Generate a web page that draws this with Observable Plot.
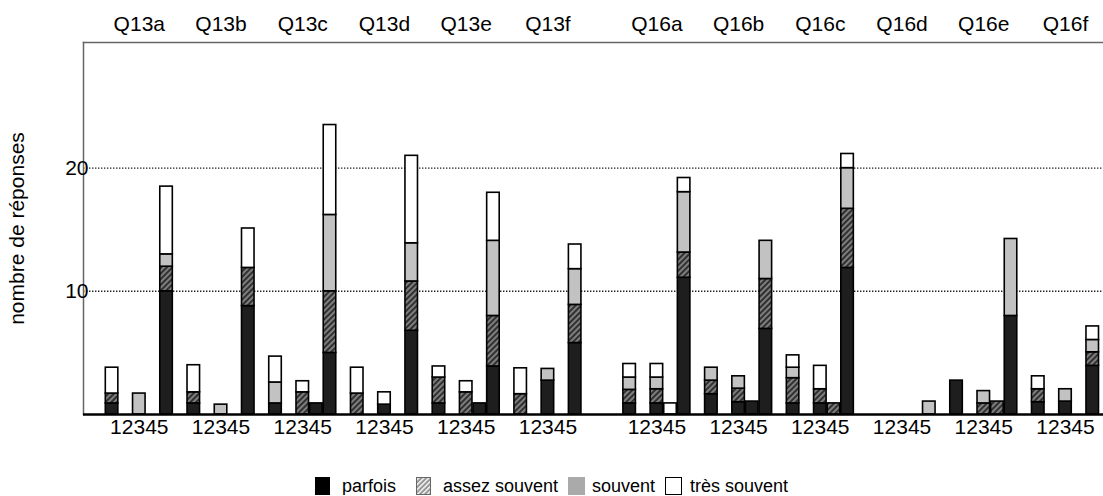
<!DOCTYPE html>
<html><head><meta charset="utf-8">
<script src="https://cdn.jsdelivr.net/npm/d3@7"></script>
<script src="https://cdn.jsdelivr.net/npm/@observablehq/plot@0.6"></script>
<style>
body{margin:0;background:#fff;font-family:"Liberation Sans",Arial,sans-serif;}
#chart svg{display:block}
#legend{display:flex;justify-content:center;align-items:center;margin-top:37px;font-size:18px;color:#000;height:18px;line-height:18px}
.item{display:flex;align-items:center}
.sw{width:16px;height:18px;box-sizing:border-box;display:block}
</style></head><body><div id="chart"></div><div id="legend"></div>
<script>
const groups = ["Q13a","Q13b","Q13c","Q13d","Q13e","Q13f","Q16a","Q16b","Q16c","Q16d","Q16e","Q16f"];
const responses = [1,2,3,4,5];
const categories = ["parfois","assez souvent","souvent","très souvent"];
const bottomTickLabel = responses.join("");
const gridTicks = [10, 20];
// values per group (rows) and per response 1..5 (columns)
const parfois = [
 [0.9,0,0,0,10.0],
 [0.9,0,0,0,8.8],
 [0.9,0,0,0.9,5.0],
 [0,0,0.8,0,6.8],
 [0.9,0,0,0.9,3.9],
 [0,0,2.75,0,5.8],
 [0.9,0,0.9,0,11.1],
 [1.65,0,1.0,1.05,6.95],
 [0.9,0,0.9,0,11.9],
 [0,0,0,0,0],
 [2.75,0,0,0,8.0],
 [1.0,0,1.05,0,3.95]
];
const assezSouvent = [
 [0.8,0,0,0,2.0],
 [0.9,0,0,0,3.1],
 [0,0,1.8,0,5.0],
 [1.7,0,0,0,4.0],
 [2.1,0,1.8,0,4.1],
 [1.65,0,0,0,3.1],
 [1.1,0,1.15,0,2.05],
 [1.1,0,1.1,0,4.05],
 [2.05,0,1.15,0.9,4.8],
 [0,0,0,0,0],
 [0,0,0.9,1.05,0],
 [1.05,0,0,0,1.1]
];
const souvent = [
 [0,0,1.7,0,1.0],
 [0,0,0.8,0,0],
 [1.7,0,0,0,6.2],
 [0,0,0,0,3.1],
 [0,0,0,0,6.1],
 [0,0,0.95,0,2.9],
 [1.0,0,0.95,0,4.9],
 [1.05,0,1.0,0,3.1],
 [0.85,0,0,0,3.3],
 [0,0,0,0,1.05],
 [0,0,1.0,0,6.25],
 [0,0,1.0,0,1.0]
];
const tresSouvent = [
 [2.1,0,0,0,5.5],
 [2.2,0,0,0,3.2],
 [2.1,0,0.9,0,7.3],
 [2.1,0,1.0,0,7.1],
 [0.9,0,0.9,0,3.9],
 [2.1,0,0,0,2.0],
 [1.1,0,1.1,0.9,1.15],
 [0,0,0,0,0],
 [1.0,0,1.9,0,1.15],
 [0,0,0,0,0],
 [0,0,0,0,0],
 [1.05,0,0,0,1.1]
];
const series = [parfois, assezSouvent, souvent, tresSouvent];

const keyOf = (g, r) => g + "|" + r;
const rows = [];
groups.forEach((g, gi) => responses.forEach((r, ri) => categories.forEach((c, ci) => {
  const v = series[ci][gi][ri];
  if (v > 0) rows.push({group: g, response: r, category: c, value: v, key: keyOf(g, r)});
})));

const domain = [];
groups.forEach((g, i) => {
  if (i > 0 && g.slice(0, 3) !== groups[i - 1].slice(0, 3)) domain.push("sepA" + g, "sepB" + g);
  responses.forEach(r => domain.push(keyOf(g, r)));
  if (i < groups.length - 1) domain.push(g + "|gap");
});
const centerKeys = groups.map(g => keyOf(g, 3));

const chart = Plot.plot({
  width: 1103, height: 440,
  marginLeft: 83, marginRight: 0, marginTop: 42, marginBottom: 26,
  style: {fontFamily: "Liberation Sans, Arial, sans-serif", fontSize: "21px", color: "#000", background: "#fff"},
  x: {type: "band", domain, paddingInner: 0.08, paddingOuter: 0, insetLeft: 22.3, insetRight: 4.5},
  y: {domain: [0, 30.2]},
  color: {domain: categories, range: ["#1e1e1e", "url(#hatch)", "#c2c2c2", "#ffffff"]},
  marks: [
    Plot.ruleY(gridTicks, {stroke: "#222", strokeWidth: 1.4, strokeDasharray: "1.4 1.6"}),
    Plot.frame({anchor: "left", stroke: "#666", strokeWidth: 1.5}),
    Plot.frame({anchor: "top", stroke: "#666", strokeWidth: 1.5}),
    Plot.barY(rows, {x: "key", y: "value", fill: "category", order: categories, stroke: "#000", strokeWidth: 1.6}),
    Plot.ruleY([0], {stroke: "#000", strokeWidth: 2.5}),
    Plot.axisY({ticks: gridTicks, tickSize: 0, tickPadding: 7, dx: 12, label: null}),
    Plot.axisY({ticks: [], label: "nombre de réponses", labelAnchor: "center", labelArrow: "none", labelOffset: 74}),
    Plot.axisX({anchor: "bottom", ticks: centerKeys, tickFormat: () => bottomTickLabel, tickSize: 0, tickPadding: 5, label: null}),
    Plot.axisX({anchor: "top", ticks: centerKeys, tickFormat: k => k.split("|")[0], tickSize: 0, tickPadding: 12, label: null})
  ]
});
d3.select(chart).insert("defs", ":first-child").html(
  '<pattern id="hatch" width="4" height="4" patternUnits="userSpaceOnUse" patternTransform="rotate(45)">' +
  '<rect width="4" height="4" fill="#303030"/><line x1="1" y1="0" x2="1" y2="4" stroke="#a8a8a8" stroke-width="1.3"/></pattern>');
document.getElementById("chart").appendChild(chart);

const swatchStyles = [
  '<div class="sw" style="background:#000;width:15px"></div>',
  '<svg class="sw" width="15" height="18"><defs><pattern id="lhatch" width="3.5" height="3.5" patternUnits="userSpaceOnUse" patternTransform="rotate(45)"><rect width="3.5" height="3.5" fill="#e6e6e6"/><line x1="1" y1="0" x2="1" y2="3.5" stroke="#777" stroke-width="1.3"/></pattern></defs><rect x="0.5" y="0.5" width="14" height="17" fill="url(#lhatch)" stroke="#666"/></svg>',
  '<div class="sw" style="background:#aaa;width:17px"></div>',
  '<div class="sw" style="background:#fff;border:1px solid #000;width:17px"></div>'
];
const swatchGap = [12, 11, 7, 8];
const itemGap = [20, 10, 10, 0];
const legend = document.getElementById("legend");
categories.forEach((c, i) => {
  const it = document.createElement("div");
  it.className = "item";
  it.style.marginRight = itemGap[i] + "px";
  it.innerHTML = swatchStyles[i] + '<span style="margin-left:' + swatchGap[i] + 'px">' + c + "</span>";
  legend.appendChild(it);
});
</script></body></html>
